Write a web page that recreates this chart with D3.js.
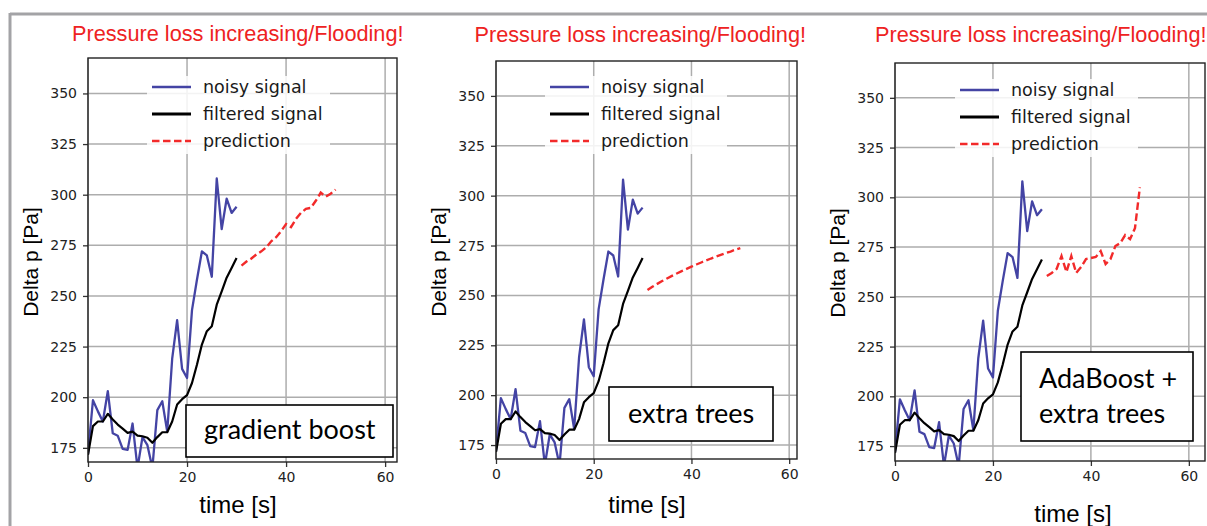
<!DOCTYPE html>
<html lang="en">
<head>
<meta charset="UTF-8">
<title>Pressure loss prediction</title>
<script src="https://d3js.org/d3.v7.min.js"></script>
<style>
  html, body { margin: 0; padding: 0; background: #fff; }
  svg { display: block; }
</style>
</head>
<body>
<svg id="chart" width="1207" height="526"></svg>
<script>
// measured signal (same in every panel)
var timeObs = [0, 1, 2, 3, 4, 5, 6, 7, 8, 9, 10, 11, 12, 13, 14, 15, 16, 17, 18, 19, 20,
               21, 22, 23, 24, 25, 26, 27, 28, 29, 30];
var noisySignal = [172, 198.5, 193, 188, 203, 182.2, 181, 174.5, 174, 187, 165, 180.3, 176.3, 165,
                   193.6, 198, 183, 219, 238, 214, 209.5, 243, 258, 272, 270, 259.5, 308, 283, 298, 291, 294];
var filteredSignal = [171.5, 185.7, 188, 188, 191.8, 189, 186.5, 184.5, 182.4, 183, 181, 180.7, 180, 177.5,
                      180.3, 182.7, 182.7, 188, 196.4, 199, 201, 207, 216, 226, 232.6, 235, 245.7, 252.3, 259, 263.8, 268.7];

// predictions of the three models
var timePred = [31, 32, 33, 34, 35, 36, 37, 38, 39, 40, 41, 42, 43, 44, 45, 46, 47, 48, 49, 50];
var predGradientBoost = [265, 267, 268.5, 270.5, 272, 274, 277, 279, 282, 285.5,
                         284, 288, 291, 293, 293.5, 297, 301, 299, 300.5, 302.5];
var predExtraTrees = [252.7, 254.3, 255.8, 257.2, 258.5, 259.8, 261, 262.2, 263.3, 264.4,
                      265.5, 266.5, 267.5, 268.5, 269.4, 270.3, 271.2, 272, 272.9, 273.7];
var predAdaBoost = [260.5, 262, 264, 270.5, 262.5, 270.5, 262, 265, 269, 269.5,
                    270, 273, 266.5, 269, 275.5, 277, 281, 279, 284.5, 305];

var xTicks = [0, 20, 40, 60];
var yTicks = [175, 200, 225, 250, 275, 300, 325, 350];
var legendLabels = ["noisy signal", "filtered signal", "prediction"];
var modelLabels = [["gradient boost"], ["extra trees"], ["AdaBoost +", "extra trees"]];
var titleText = "Pressure loss increasing/Flooding!";

var colNoisy = "#4444a4", colFiltered = "#000", colPred = "#f22a2a";

// panel layout (pixel boxes)
var panels = [
  { pred: predGradientBoost, label: modelLabels[0],
    L: 88, T: 58, R: 397, B: 462, xMax: 62.4, yMin: 168,
    title: [72, 40.5], ylab: [30, 262], xlab: [238, 513],
    legend: [147, 76, 183, 78], box: [186, 405, 207, 52], text: [204, [439]] },
  { pred: predExtraTrees, label: modelLabels[1],
    L: 496, T: 61, R: 797, B: 459, xMax: 61.6, yMin: 168,
    title: [474.5, 42], ylab: [438, 262], xlab: [647, 513],
    legend: [545, 76, 182, 78], box: [609, 387, 164, 54], text: [628, [423]] },
  { pred: predAdaBoost, label: modelLabels[2],
    L: 895, T: 63, R: 1205, B: 461, xMax: 63.3, yMin: 167.5,
    title: [875, 42], ylab: [837, 263], xlab: [1073, 522],
    legend: [955, 79, 183, 78], box: [1021, 352, 172, 89], text: [1039, [388, 423]] }
];

var svg = d3.select("#chart");

// slide frame
svg.append("line").attr("x1", 10).attr("x2", 1207).attr("y1", 14).attr("y2", 14)
   .attr("stroke", "#a3a3a6").attr("stroke-width", 3);
svg.append("line").attr("x1", 10).attr("x2", 10).attr("y1", 13).attr("y2", 526)
   .attr("stroke", "#a3a3a6").attr("stroke-width", 3);

panels.forEach(function(p, idx) {
  var g = svg.append("g").attr("class", "panel" + idx);

  var x = d3.scaleLinear().domain([0, p.xMax]).range([p.L, p.R]);
  var y = d3.scaleLinear().domain([p.yMin, 367.5]).range([p.B, p.T]);

  var clipId = "clip" + idx;
  g.append("clipPath").attr("id", clipId).append("rect")
    .attr("x", p.L).attr("y", p.T).attr("width", p.R - p.L).attr("height", p.B - p.T);

  // grid
  g.selectAll("line.gx").data(xTicks).enter().append("line")
    .attr("class", "gx")
    .attr("x1", function(d) { return x(d); }).attr("x2", function(d) { return x(d); })
    .attr("y1", p.T).attr("y2", p.B)
    .attr("stroke", "#adadad").attr("stroke-width", 1.5);
  g.selectAll("line.gy").data(yTicks).enter().append("line")
    .attr("class", "gy")
    .attr("x1", p.L).attr("x2", p.R)
    .attr("y1", function(d) { return y(d); }).attr("y2", function(d) { return y(d); })
    .attr("stroke", "#adadad").attr("stroke-width", 1.5);

  // series
  var line = d3.line().x(function(d) { return x(d[0]); }).y(function(d) { return y(d[1]); });
  var lines = g.append("g").attr("clip-path", "url(#" + clipId + ")");
  lines.append("path").attr("d", line(d3.zip(timeObs, noisySignal)))
    .attr("fill", "none").attr("stroke", colNoisy).attr("stroke-width", 2.3)
    .attr("stroke-linejoin", "round");
  lines.append("path").attr("d", line(d3.zip(timeObs, filteredSignal)))
    .attr("fill", "none").attr("stroke", colFiltered).attr("stroke-width", 2.2)
    .attr("stroke-linejoin", "round");
  lines.append("path").attr("d", line(d3.zip(timePred, p.pred)))
    .attr("fill", "none").attr("stroke", colPred).attr("stroke-width", 2.4)
    .attr("stroke-dasharray", "7.5,3.5");

  // axes
  var ax = g.append("g").attr("transform", "translate(0," + p.B + ")")
    .call(d3.axisBottom(x).tickValues(xTicks).tickSize(5).tickPadding(5));
  var ay = g.append("g").attr("transform", "translate(" + p.L + ",0)")
    .call(d3.axisLeft(y).tickValues(yTicks).tickSize(5).tickPadding(6));
  [ax, ay].forEach(function(a) {
    a.select(".domain").remove();
    a.selectAll("line").attr("stroke", "#333").attr("stroke-width", 1.3);
    a.selectAll("text").attr("fill", "#222")
      .style("font-family", "'DejaVu Sans', sans-serif").style("font-size", "14px");
  });

  // spines
  g.append("rect").attr("x", p.L).attr("y", p.T)
    .attr("width", p.R - p.L).attr("height", p.B - p.T)
    .attr("fill", "none").attr("stroke", "#222").attr("stroke-width", 1.4);

  // legend
  var lg = g.append("g");
  lg.append("rect").attr("x", p.legend[0]).attr("y", p.legend[1])
    .attr("width", p.legend[2]).attr("height", p.legend[3])
    .attr("fill", "#fff").attr("fill-opacity", 0.85);
  var styles = [
    { c: colNoisy, dash: null, w: 2.4 },
    { c: colFiltered, dash: null, w: 2.8 },
    { c: colPred, dash: "7.5,3.5", w: 2.5 }
  ];
  legendLabels.forEach(function(t, i) {
    var ly = p.legend[1] + 11 + i * 27;
    lg.append("line").attr("x1", p.legend[0] + 5).attr("x2", p.legend[0] + 44)
      .attr("y1", ly).attr("y2", ly)
      .attr("stroke", styles[i].c).attr("stroke-width", styles[i].w)
      .attr("stroke-dasharray", styles[i].dash);
    lg.append("text").attr("x", p.legend[0] + 56).attr("y", ly + 6)
      .attr("fill", "#1a1a1a")
      .style("font-family", "'DejaVu Sans', sans-serif").style("font-size", "17.5px")
      .text(t);
  });

  // axis labels
  g.append("text")
    .attr("transform", "translate(" + p.ylab[0] + "," + p.ylab[1] + ") rotate(-90)")
    .attr("text-anchor", "middle").attr("dominant-baseline", "central")
    .style("font-family", "'Liberation Sans', Arial, sans-serif").style("font-size", "21px")
    .text("Delta p [Pa]");
  g.append("text").attr("x", p.xlab[0]).attr("y", p.xlab[1])
    .attr("text-anchor", "middle")
    .style("font-family", "'Liberation Sans', Arial, sans-serif").style("font-size", "24px")
    .text("time [s]");

  // title
  g.append("text").attr("x", p.title[0]).attr("y", p.title[1])
    .attr("fill", "#ee2222")
    .style("font-family", "'Liberation Sans', Arial, sans-serif").style("font-size", "21.7px")
    .text(titleText);

  // model label box
  g.append("rect").attr("x", p.box[0]).attr("y", p.box[1])
    .attr("width", p.box[2]).attr("height", p.box[3])
    .attr("fill", "#fff").attr("stroke", "#000").attr("stroke-width", 1.6);
  p.label.forEach(function(t, i) {
    g.append("text").attr("x", p.text[0]).attr("y", p.text[1][i])
      .attr("fill", "#000")
      .style("font-family", "Lato, sans-serif").style("font-size", "27px")
      .text(t);
  });
});
</script>
</body>
</html>
